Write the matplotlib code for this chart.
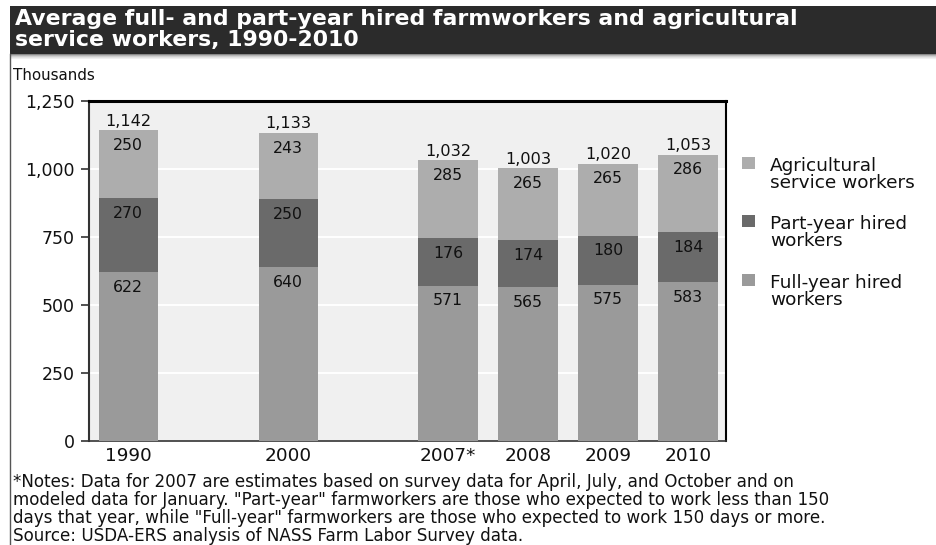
import matplotlib
matplotlib.use("Agg")
import matplotlib.pyplot as plt
from matplotlib.patches import Rectangle
from matplotlib.lines import Line2D
import numpy as np

plt.rcParams["font.family"] = ["DejaVu Sans"]

# Data (thousands of workers)
years = ["1990", "2000", "2007*", "2008", "2009", "2010"]
slots = [0, 2, 4, 5, 6, 7]
full_year = [622, 640, 571, 565, 575, 583]
part_year = [270, 250, 176, 174, 180, 184]
service = [250, 243, 285, 265, 265, 286]
totals = [1142, 1133, 1032, 1003, 1020, 1053]

series_names = ["Agricultural\nservice workers", "Part-year hired\nworkers", "Full-year hired\nworkers"]
series_colors = ["#adadad", "#6a6a6a", "#9a9a9a"]

W, H = 937, 545
fig = plt.figure(figsize=(W / 100, H / 100), dpi=100)
fig.patch.set_facecolor("white")

# Header band
fig.add_artist(Rectangle((10 / W, 1 - 54 / H), 1 - 10 / W, 48 / H,
                         transform=fig.transFigure, facecolor="#2b2b2b",
                         edgecolor="none"))
for i, c in enumerate(["#8a8a8a", "#b5b5b5", "#d0d0d0", "#e3e3e3", "#f0f0f0"]):
    fig.add_artist(Rectangle((10 / W, 1 - (55 + i) / H), 1 - 10 / W, 1 / H,
                             transform=fig.transFigure, facecolor=c,
                             edgecolor="none"))
fig.add_artist(Line2D([10.5 / W, 10.5 / W], [0, 1 - 54 / H],
                      transform=fig.transFigure, color="#555555", lw=1.0))
fig.text(15 / W, 1 - 9 / H,
         "Average full- and part-year hired farmworkers and agricultural\nservice workers, 1990-2010",
         color="white", fontsize=15.8, fontweight="bold", va="top", ha="left",
         linespacing=1.06)

fig.text(13 / W, 1 - 75 / H, "Thousands", fontsize=10.9, va="center", ha="left",
         color="#111111")

ax = fig.add_axes([89 / W, 1 - 441 / H, (726 - 89) / W, (441 - 101) / H])
ax.set_facecolor("#f0f0f0")

x = np.array(slots, dtype=float)
bw = 0.74
b1 = ax.bar(x, full_year, bw, color=series_colors[2], zorder=3)
b2 = ax.bar(x, part_year, bw, bottom=full_year, color=series_colors[1], zorder=3)
bottom3 = np.array(full_year) + np.array(part_year)
b3 = ax.bar(x, service, bw, bottom=bottom3, color=series_colors[0], zorder=3)

# Segment labels near top of each segment
for bars, vals in [(b1, full_year), (b2, part_year), (b3, service)]:
    for rect, v in zip(bars, vals):
        top = rect.get_y() + rect.get_height()
        ax.annotate(f"{v:,}", (rect.get_x() + rect.get_width() / 2, top),
                    xytext=(0, -11), textcoords="offset points",
                    ha="center", va="center", fontsize=11.3, color="#111111",
                    zorder=5)
for xi, t in zip(x, totals):
    ax.annotate(f"{t:,}", (xi, t), xytext=(0, 6.5), textcoords="offset points",
                ha="center", va="center", fontsize=11.6, color="#111111", zorder=5)

ax.set_xlim(-0.49, 7.475)
ax.set_ylim(0, 1250)
ax.set_yticks([0, 250, 500, 750, 1000, 1250])
ax.set_yticklabels(["0", "250", "500", "750", "1,000", "1,250"])
ax.set_xticks(x)
ax.set_xticklabels(years)
ax.tick_params(axis="x", length=0, pad=4, labelsize=13.3, labelcolor="#111111")
ax.tick_params(axis="y", length=6, width=1.2, color="#333333", pad=4,
               labelsize=12.5, labelcolor="#111111")

ax.yaxis.grid(True, color="white", lw=1.4, zorder=1)
ax.set_axisbelow(True)

ax.spines["left"].set_color("#333333")
ax.spines["left"].set_linewidth(1.5)
ax.spines["bottom"].set_color("#333333")
ax.spines["bottom"].set_linewidth(1.2)
ax.spines["top"].set_color("#000000")
ax.spines["top"].set_linewidth(2.2)
ax.spines["right"].set_color("#000000")
ax.spines["right"].set_linewidth(1.5)

# Legend: squares aligned with the first line of each label
leg_tops = [163, 221, 280]
for name, col, yy in zip(series_names, series_colors, leg_tops):
    fig.add_artist(Rectangle((742 / W, 1 - (yy + 6) / H), 13 / W, 12 / H,
                             transform=fig.transFigure, facecolor=col,
                             edgecolor="none"))
    fig.text(770 / W, 1 - (yy - 6) / H, name, fontsize=13.3, va="top",
             ha="left", color="#111111", linespacing=0.95)

notes = ("*Notes: Data for 2007 are estimates based on survey data for April, July, and October and on\n"
         "modeled data for January. \"Part-year\" farmworkers are those who expected to work less than 150\n"
         "days that year, while \"Full-year\" farmworkers are those who expected to work 150 days or more.\n"
         "Source: USDA-ERS analysis of NASS Farm Labor Survey data.")
fig.text(13 / W, 1 - 473 / H, notes, fontsize=12.1, va="top", ha="left",
         color="#111111", linespacing=0.99)

fig.savefig("out.png", dpi=100, facecolor="white")
